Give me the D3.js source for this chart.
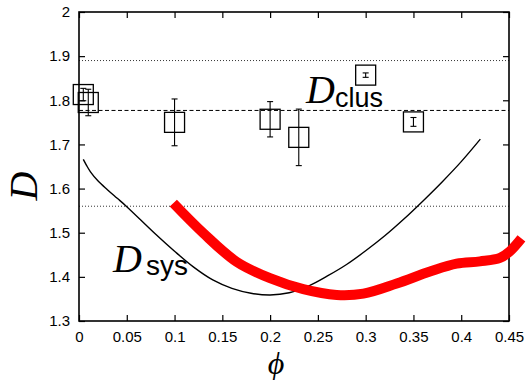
<!DOCTYPE html>
<html><head><meta charset="utf-8">
<script src="https://cdn.jsdelivr.net/npm/d3@7"></script>
<style>body{margin:0;background:#fff}svg{display:block}</style>
</head><body>
<svg id="chart" width="531" height="380"></svg>
<script>
const xTicks = [0,0.05,0.1,0.15,0.2,0.25,0.3,0.35,0.4,0.45];
const xTickLabels = ["0","0.05","0.1","0.15","0.2","0.25","0.3","0.35","0.4","0.45"];
const yTicks = [1.3,1.4,1.5,1.6,1.7,1.8,1.9,2];
const yTickLabels = ["1.3","1.4","1.5","1.6","1.7","1.8","1.9","2"];

const pointPhi = [0.0045,0.0097,0.1,0.2,0.23,0.3,0.35];
const pointD   = [1.813,1.795,1.75,1.757,1.716,1.857,1.751];
const pointErr = [0.014,0.03,0.053,0.04,0.064,0.005,0.01];

const hDotted = [1.89,1.56];
const hDashed = [1.777];

const sysPhi = [0.0045,0.008,0.012,0.02,0.03,0.04,0.05,0.08,0.1,0.12,0.14,0.16,0.18,0.2,0.22,0.24,0.26,0.28,0.30,0.32,0.34,0.36,0.38,0.40,0.42];
const sysD   = [1.666,1.652,1.638,1.617,1.597,1.578,1.559,1.497,1.458,1.422,1.393,1.374,1.363,1.359,1.364,1.379,1.402,1.428,1.459,1.493,1.531,1.572,1.615,1.661,1.712];

const redPhi = [0.0987,0.1301,0.165,0.1999,0.2347,0.2697,0.2976,0.3325,0.3673,0.3952,0.4196,0.4406,0.451,0.463];
const redD   = [1.567,1.499,1.434,1.397,1.372,1.359,1.362,1.385,1.412,1.430,1.435,1.443,1.458,1.487];

const svg = d3.select("#chart");
const L=79,R=509,T=12,B=321;
const x = d3.scaleLinear().domain([0,0.45]).range([L,R]);
const y = d3.scaleLinear().domain([1.3,2]).range([B,T]);

// reference lines
hDotted.forEach(v=>svg.append("line").attr("x1",L).attr("x2",R).attr("y1",y(v)).attr("y2",y(v))
  .attr("stroke","#000").attr("stroke-width",0.8).attr("stroke-dasharray","1,2"));
hDashed.forEach(v=>svg.append("line").attr("x1",L).attr("x2",R).attr("y1",y(v)).attr("y2",y(v))
  .attr("stroke","#000").attr("stroke-width",1).attr("stroke-dasharray","4,2.5"));

// axes
const fmtX = (d,i)=>xTickLabels[i], fmtY=(d,i)=>yTickLabels[i];
const ax = svg.append("g").attr("transform",`translate(0,${B})`)
  .call(d3.axisBottom(x).tickValues(xTicks).tickFormat(fmtX).tickSizeInner(-6).tickSizeOuter(0).tickPadding(10));
const ay = svg.append("g").attr("transform",`translate(${L},0)`)
  .call(d3.axisLeft(y).tickValues(yTicks).tickFormat(fmtY).tickSizeInner(-6).tickSizeOuter(0).tickPadding(9));
const at = svg.append("g").attr("transform",`translate(0,${T})`)
  .call(d3.axisTop(x).tickValues(xTicks).tickFormat("").tickSizeInner(-6).tickSizeOuter(0));
const ar = svg.append("g").attr("transform",`translate(${R},0)`)
  .call(d3.axisRight(y).tickValues(yTicks).tickFormat("").tickSizeInner(-6).tickSizeOuter(0));
[ax,ay,at,ar].forEach(g=>{
  g.selectAll("text").attr("font-family","'Liberation Sans',Arial,sans-serif").attr("font-size",15).attr("fill","#000");
  g.selectAll("line").attr("stroke","#000").attr("stroke-width",1.2);
  g.select(".domain").remove();
});
svg.append("rect").attr("x",L).attr("y",T).attr("width",R-L).attr("height",B-T)
  .attr("fill","none").attr("stroke","#000").attr("stroke-width",1.6);

const line = d3.line().x(d=>x(d[0])).y(d=>y(d[1])).curve(d3.curveCatmullRom.alpha(0.5));

// black curve
const sysData = sysPhi.map((p,i)=>[p,sysD[i]]);
svg.append("path").datum(sysData).attr("d",line)
  .attr("fill","none").attr("stroke","#000").attr("stroke-width",1.4);

// red curve
const redData = redPhi.map((p,i)=>[p,redD[i]]);
svg.append("path").datum(redData).attr("d",line)
  .attr("fill","none").attr("stroke","#ff0000").attr("stroke-width",10).attr("stroke-linecap","butt");

// points
const pts = pointPhi.map((p,i)=>({p,d:pointD[i],e:pointErr[i]}));
const gp = svg.append("g");
pts.forEach(o=>{
  gp.append("rect").attr("x",x(o.p)-10).attr("y",y(o.d)-10).attr("width",20).attr("height",20)
    .attr("fill","none").attr("stroke","#000").attr("stroke-width",1.3);
});
pts.forEach(o=>{
  const cx=x(o.p), y1=y(o.d+o.e), y2=y(o.d-o.e);
  gp.append("line").attr("x1",cx).attr("x2",cx).attr("y1",y1).attr("y2",y2).attr("stroke","#000").attr("stroke-width",1.1);
  [y1,y2].forEach(yy=>gp.append("line").attr("x1",cx-3).attr("x2",cx+3).attr("y1",yy).attr("y2",yy).attr("stroke","#000").attr("stroke-width",1.1));
});

// labels
const serif="'Liberation Serif','DejaVu Serif',serif", sans="'Liberation Sans',Arial,sans-serif";
const lc = svg.append("text").attr("x",306).attr("y",103).attr("fill","#000");
lc.append("tspan").attr("font-family",serif).attr("font-style","italic").attr("font-size",40).text("D");
lc.append("tspan").attr("font-family",sans).attr("font-size",27).attr("dy",4).text("clus");
const ls = svg.append("text").attr("x",113).attr("y",272).attr("fill","#000");
ls.append("tspan").attr("font-family",serif).attr("font-style","italic").attr("font-size",40).text("D");
ls.append("tspan").attr("font-family",sans).attr("font-size",28).attr("dy",3).attr("dx",4).text("sys");

svg.append("text").attr("transform","translate(37,186) rotate(-90)").attr("text-anchor","middle")
  .attr("font-family",serif).attr("font-style","italic").attr("font-size",40).attr("fill","#000").text("D");
svg.append("text").attr("x",276).attr("y",373.5).attr("text-anchor","middle")
  .attr("font-family",serif).attr("font-style","italic").attr("font-size",32).attr("fill","#000").text("ϕ");
</script>
</body></html>
